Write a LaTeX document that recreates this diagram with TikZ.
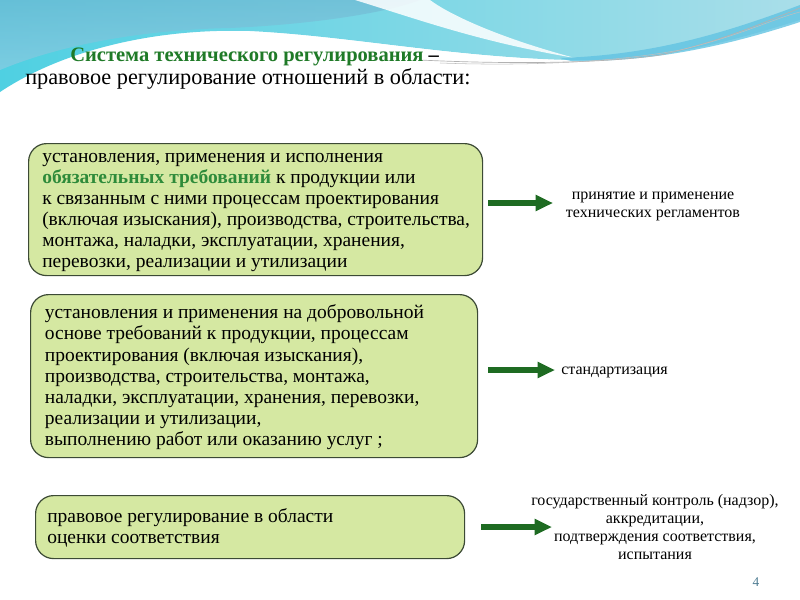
\documentclass[tikz,border=0pt]{standalone}
\usepackage{fontspec}
\setmainfont{Liberation Serif}
\usetikzlibrary{arrows.meta}
\definecolor{boxfill}{HTML}{D5E8A2}
\definecolor{boxline}{HTML}{3C4A35}
\definecolor{arrowgreen}{HTML}{1E6B22}
\definecolor{titlegreen}{HTML}{1F7A27}
\definecolor{keygreen}{HTML}{2E8B3A}
\definecolor{bgA}{HTML}{6FB9D3}
\definecolor{bgB}{HTML}{8DCCE2}
\definecolor{bgC}{HTML}{A9DEE9}
\definecolor{bgCyan}{HTML}{4FD0E2}
\definecolor{bgBand}{HTML}{62C3E2}
\definecolor{pagenum}{HTML}{4E7C92}
\tikzset{
  greenbox/.style={draw=boxline, line width=0.9pt, fill=boxfill, rounded corners=13.5pt, inner sep=0pt, anchor=north west},
  boxtext/.style={inner sep=0pt, anchor=west, align=left, font=\fontsize{14.6}{15.75}\selectfont},
  sidetext/.style={inner sep=0pt, align=center, font=\fontsize{12}{13.5}\selectfont},
  bigarrow/.style={draw=arrowgreen, line width=4pt, -{Triangle[length=13pt,width=11.5pt]}, arrowgreen},
}
\begin{document}
\begin{tikzpicture}[x=0.75pt,y=-0.75pt]
\useasboundingbox (0,0) rectangle (800,600);
\fill[white] (0,0) rectangle (800,600);
% background swoosh
\shade[left color=bgCyan, middle color=bgB, right color=bgC]
  (0,0) -- (800,0) -- (800,20) .. controls (720,45) and (650,62) .. (570,60)
  .. controls (450,57) and (350,36) .. (250,31) .. controls (150,28) and (60,52) .. (0,92) -- cycle;
\shade[top color=bgA, bottom color=bgB, opacity=0.7]
  (0,0) -- (420,0) .. controls (380,15) and (300,25) .. (230,28) .. controls (140,30) and (60,45) .. (0,70) -- cycle;
\fill[white, opacity=0.85]
  (355,0) .. controls (420,20) and (480,42) .. (575,58) .. controls (500,38) and (450,15) .. (430,0) -- cycle;
\fill[bgBand, opacity=0.8]
  (560,58) .. controls (650,55) and (720,35) .. (800,5) -- (800,22) .. controls (720,48) and (650,62) .. (570,61) -- cycle;
\draw[white, line width=2pt, opacity=0.9] (0,95) .. controls (60,55) and (150,32) .. (250,33) .. controls (350,38) and (450,58) .. (570,62);
\draw[gray!60, line width=0.5pt] (420,60) .. controls (500,64) and (600,64) .. (660,55) .. controls (720,42) and (770,20) .. (800,8);
\draw[gray!50, line width=0.4pt] (440,63) .. controls (520,66) and (610,63) .. (680,50) .. controls (740,36) and (775,18) .. (800,12);
% title
\node[inner sep=0pt, anchor=west, font=\fontsize{15.4}{17}\selectfont] (title) at (70,57)
  {\textcolor{titlegreen}{\textbf{Система технического регулирования}} \textbf{–}};
\node[inner sep=0pt, anchor=west, font=\fontsize{16.7}{18}\selectfont] (subtitle) at (25,79)
  {правовое регулирование отношений в области:};
% boxes
\node[greenbox, minimum width=340.5pt, minimum height=99pt] (b1) at (28,143) {};
\node[boxtext] (t1) at ([xshift=10.5pt,yshift=-2.2pt]b1.west)
  {установления, применения и исполнения\\
   \textcolor{keygreen}{\textbf{обязательных требований}} к продукции или\\
   к связанным с ними процессам проектирования\\
   (включая изыскания), производства, строительства,\\
   монтажа, наладки, эксплуатации, хранения,\\
   перевозки, реализации и утилизации};
\node[greenbox, minimum width=335.25pt, minimum height=122.25pt] (b2) at (30,294) {};
\node[boxtext, font=\fontsize{14.6}{15.9}\selectfont] (t2) at ([xshift=11pt,yshift=-1pt]b2.west)
  {установления и применения на добровольной\\
   основе требований к продукции, процессам\\
   проектирования (включая изыскания),\\
   производства, строительства, монтажа,\\
   наладки, эксплуатации, хранения, перевозки,\\
   реализации и утилизации,\\
   выполнению работ или оказанию услуг ;};
\node[greenbox, minimum width=321.75pt, minimum height=47.25pt] (b3) at (35,495) {};
\node[boxtext] (t3) at ([xshift=9pt,yshift=-0.6pt]b3.west)
  {правовое регулирование в области\\
   оценки соответствия};
% right texts
\node[sidetext] (r1) at (653,206) {принятие и применение\\технических регламентов};
\node[sidetext, anchor=west] (r2) at (561,372) {стандартизация};
\node[sidetext, font=\fontsize{12}{13.3}\selectfont] (r3) at (655,527)
  {государственный контроль (надзор),\\аккредитации,\\подтверждения соответствия,\\испытания};
% arrows
\coordinate (a1s) at (488,203);
\coordinate (a1e) at (553,203);
\coordinate (a2s) at (488,370);
\coordinate (a2e) at (555,370);
\coordinate (a3s) at (481,527);
\coordinate (a3e) at (552,527);
\draw[bigarrow] (a1s) -- (a1e);
\draw[bigarrow] (a2s) -- (a2e);
\draw[bigarrow] (a3s) -- (a3e);
% page number
\node[inner sep=0pt, text=pagenum, font=\fontsize{10}{12}\selectfont] (pg) at (756,582) {4};
\end{tikzpicture}
\end{document}
